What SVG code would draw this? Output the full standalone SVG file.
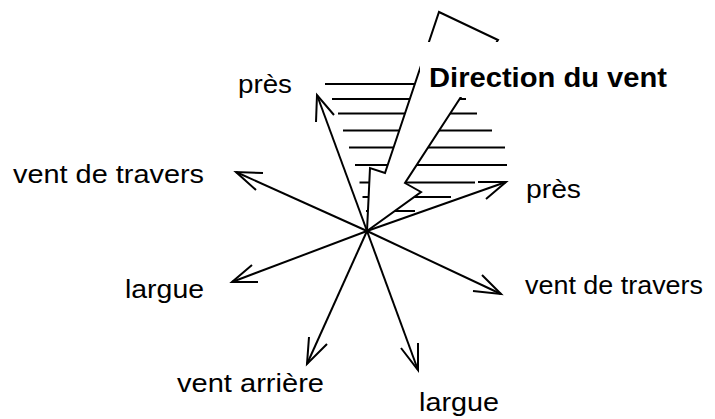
<svg xmlns="http://www.w3.org/2000/svg" width="715" height="419" viewBox="0 0 715 419">
<style>
.ln{stroke:#000;stroke-width:2;fill:none;stroke-linecap:butt;stroke-linejoin:miter}
.lbl{font-family:"Liberation Sans",Arial,sans-serif;font-size:25px;fill:#000}
.bold{font-family:"Liberation Sans",Arial,sans-serif;font-size:27px;font-weight:bold;fill:#000}
</style>
<rect width="715" height="419" fill="#fff"/>
<g id="hatch" class="ln">
<line x1="325" y1="84" x2="470" y2="84"/>
<line x1="332" y1="99" x2="466" y2="99"/>
<line x1="338" y1="113.5" x2="477" y2="113.5"/>
<line x1="343" y1="130.5" x2="492" y2="130.5"/>
<line x1="349" y1="147.5" x2="505" y2="147.5"/>
<line x1="355" y1="165" x2="507" y2="165"/>
<line x1="359.5" y1="182.5" x2="475" y2="182.5"/>
<line x1="362.5" y1="197" x2="451" y2="197"/>
<line x1="366" y1="211" x2="415" y2="211"/>
</g>
<g id="wind">
<polygon class="ln" fill="#fff" style="fill:#fff" points="439,12 498,40 405,183 421,192 367,231 370,168 385,173"/>
<rect x="420" y="42" width="260" height="55" fill="#fff"/>
<text class="bold" x="429" y="87" textLength="238" lengthAdjust="spacingAndGlyphs">Direction du vent</text>
</g>
<g id="connectors" class="ln">
<line x1="367" y1="231" x2="317" y2="95"/>
<polyline points="316,122 317,95 334,115"/>
<line x1="367" y1="231" x2="506" y2="182"/>
<polyline points="478,182 506,182 486,199"/>
<line x1="367" y1="231" x2="236" y2="172"/>
<polyline points="263,173 236,172 256,190"/>
<line x1="367" y1="231" x2="232" y2="282"/>
<polyline points="258,282 232,282 252,265"/>
<line x1="367" y1="231" x2="307" y2="364"/>
<polyline points="309,337 307,364 327,344"/>
<line x1="367" y1="231" x2="418" y2="370"/>
<polyline points="418,343 418,370 401,348"/>
<line x1="367" y1="231" x2="501" y2="294"/>
<polyline points="473,291 501,294 482,275"/>
</g>
<g id="label-pres-left"><text class="lbl" x="238" y="92.5" textLength="54" lengthAdjust="spacingAndGlyphs">près</text></g>
<g id="label-pres-right"><text class="lbl" x="526" y="198" textLength="55" lengthAdjust="spacingAndGlyphs">près</text></g>
<g id="label-travers-left"><text class="lbl" x="13" y="183" textLength="191" lengthAdjust="spacingAndGlyphs">vent de travers</text></g>
<g id="label-largue-left"><text class="lbl" x="125" y="298" textLength="79" lengthAdjust="spacingAndGlyphs">largue</text></g>
<g id="label-arriere"><text class="lbl" x="177" y="391.5" textLength="147" lengthAdjust="spacingAndGlyphs">vent arrière</text></g>
<g id="label-largue-bottom"><text class="lbl" x="419" y="411" textLength="80" lengthAdjust="spacingAndGlyphs">largue</text></g>
<g id="label-travers-right"><text class="lbl" x="525" y="294" textLength="178" lengthAdjust="spacingAndGlyphs">vent de travers</text></g>
</svg>
